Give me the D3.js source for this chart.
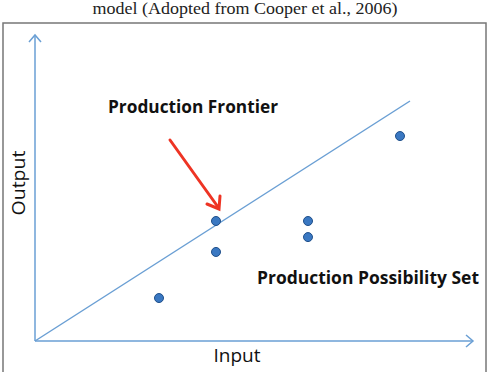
<!DOCTYPE html>
<html>
<head>
<meta charset="utf-8">
<script src="https://cdn.jsdelivr.net/npm/d3@7"></script>
<style>
  body { margin: 0; background: #fff; }
  #canvas { width: 492px; height: 372px; }
</style>
</head>
<body>
<div id="canvas"></div>
<script>
// decision making units (input, output)
var inputs  = [3.1, 4.525, 4.525, 6.825, 6.825, 9.125];
var outputs = [1.79, 5.0, 3.71, 5.0, 4.33, 8.54];
// frontier through origin
var frontierIn  = [0, 9.375];
var frontierOut = [0, 10];
var axisMax = [10.95, 12.75];

var W = 492, H = 372;

var svg = d3.select('#canvas').append('svg')
  .attr('width', W)
  .attr('height', H);

var x = d3.scaleLinear().domain([0, 10]).range([35, 435]);
var y = d3.scaleLinear().domain([0, 10]).range([341, 101]);

// title (partly cut off at top in the original)
svg.append('text')
  .attr('x', 245).attr('y', 14)
  .attr('text-anchor', 'middle')
  .attr('font-family', 'Liberation Serif, Times New Roman, serif')
  .attr('font-size', 17)
  .attr('textLength', 305)
  .attr('lengthAdjust', 'spacingAndGlyphs')
  .attr('fill', '#222')
  .text('model (Adopted from Cooper et al., 2006)');

// frame
svg.append('rect')
  .attr('x', 3).attr('y', 23)
  .attr('width', 483).attr('height', 360)
  .attr('fill', 'none')
  .attr('stroke', '#777')
  .attr('stroke-width', 1.5);

var axisColor = '#6a9fd4';

// axes
svg.append('line')
  .attr('x1', x(0)).attr('y1', y(0))
  .attr('x2', x(axisMax[0])).attr('y2', y(0))
  .attr('stroke', axisColor).attr('stroke-width', 1.5);
svg.append('line')
  .attr('x1', x(0)).attr('y1', y(0))
  .attr('x2', x(0)).attr('y2', y(axisMax[1]))
  .attr('stroke', axisColor).attr('stroke-width', 1.5);

// arrow heads on axes
var xe = x(axisMax[0]), ye = y(axisMax[1]);
svg.append('path')
  .attr('d', 'M' + (xe - 7) + ',' + (y(0) - 6) + 'L' + xe + ',' + y(0) + 'L' + (xe - 7) + ',' + (y(0) + 6))
  .attr('fill', 'none').attr('stroke', axisColor).attr('stroke-width', 1.5);
svg.append('path')
  .attr('d', 'M' + (x(0) - 6) + ',' + (ye + 7) + 'L' + x(0) + ',' + ye + 'L' + (x(0) + 6) + ',' + (ye + 7))
  .attr('fill', 'none').attr('stroke', axisColor).attr('stroke-width', 1.5);

// frontier
svg.append('line')
  .attr('x1', x(frontierIn[0])).attr('y1', y(frontierOut[0]))
  .attr('x2', x(frontierIn[1])).attr('y2', y(frontierOut[1]))
  .attr('stroke', '#6a9fd4').attr('stroke-width', 1.4);

// points
svg.selectAll('circle').data(d3.range(inputs.length))
  .enter().append('circle')
  .attr('cx', function (i) { return x(inputs[i]); })
  .attr('cy', function (i) { return y(outputs[i]); })
  .attr('r', 4.5)
  .attr('fill', '#3a78c2')
  .attr('stroke', '#1f4f8a')
  .attr('stroke-width', 1);

// red arrow pointing to frontier
var ax1 = 170, ay1 = 140, ax2 = 219, ay2 = 209;
svg.append('line')
  .attr('x1', ax1).attr('y1', ay1)
  .attr('x2', ax2 - 1).attr('y2', ay2 - 2)
  .attr('stroke', '#ee3424').attr('stroke-width', 3)
  .attr('stroke-linecap', 'round');
svg.append('path')
  .attr('d', 'M' + (ax2 - 12) + ',' + (ay2 - 5) + 'L' + ax2 + ',' + ay2 + 'L' + (ax2 + 1) + ',' + (ay2 - 13))
  .attr('fill', 'none').attr('stroke', '#ee3424').attr('stroke-width', 3)
  .attr('stroke-linecap', 'round').attr('stroke-linejoin', 'miter');

var labelFont = 'Open Sans, Lato, DejaVu Sans, sans-serif';

svg.append('text')
  .attr('x', 108).attr('y', 113)
  .attr('font-family', labelFont)
  .attr('font-weight', 'bold')
  .attr('font-size', 18)
  .attr('textLength', 170)
  .attr('lengthAdjust', 'spacingAndGlyphs')
  .attr('fill', '#111')
  .text('Production Frontier');

svg.append('text')
  .attr('x', 257).attr('y', 284)
  .attr('font-family', labelFont)
  .attr('font-weight', 'bold')
  .attr('font-size', 18)
  .attr('textLength', 222)
  .attr('lengthAdjust', 'spacingAndGlyphs')
  .attr('fill', '#111')
  .text('Production Possibility Set');

svg.append('text')
  .attr('x', 237).attr('y', 362)
  .attr('text-anchor', 'middle')
  .attr('font-family', labelFont)
  .attr('font-size', 18)
  .attr('textLength', 47)
  .attr('lengthAdjust', 'spacingAndGlyphs')
  .attr('fill', '#111')
  .text('Input');

svg.append('text')
  .attr('transform', 'translate(25,183) rotate(-90)')
  .attr('text-anchor', 'middle')
  .attr('font-family', labelFont)
  .attr('font-size', 18)
  .attr('textLength', 65)
  .attr('lengthAdjust', 'spacingAndGlyphs')
  .attr('fill', '#111')
  .text('Output');
</script>
</body>
</html>
